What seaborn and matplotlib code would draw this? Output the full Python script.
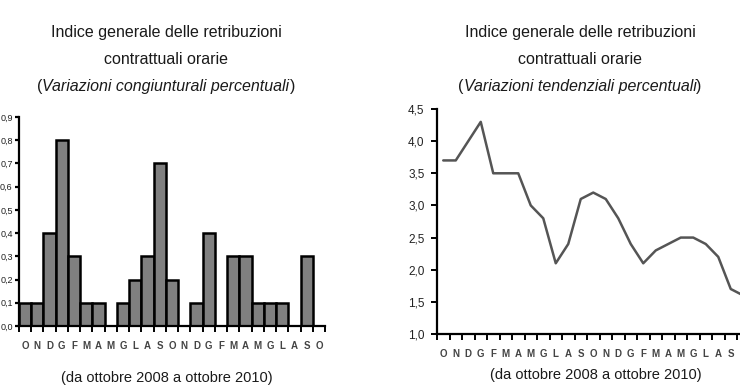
# Indice generale delle retribuzioni contrattuali orarie - due pannelli

import numpy as np
import pandas as pd
import matplotlib
matplotlib.use("Agg")
import matplotlib.pyplot as plt
import seaborn as sns

# Mesi da ottobre 2008 a ottobre 2010
mesi = ["O", "N", "D", "G", "F", "M", "A", "M", "G", "L", "A", "S",
        "O", "N", "D", "G", "F", "M", "A", "M", "G", "L", "A", "S", "O"]

# Variazioni congiunturali percentuali
congiunturali = [0.1, 0.1, 0.4, 0.8, 0.3, 0.1, 0.1, 0.0, 0.1, 0.2, 0.3, 0.7,
                 0.2, 0.0, 0.1, 0.4, 0.0, 0.3, 0.3, 0.1, 0.1, 0.1, 0.0, 0.3, 0.0]

# Variazioni tendenziali percentuali
tendenziali = [3.7, 3.7, 4.0, 4.3, 3.5, 3.5, 3.5, 3.0, 2.8, 2.1, 2.4, 3.1,
               3.2, 3.1, 2.8, 2.4, 2.1, 2.3, 2.4, 2.5, 2.5, 2.4, 2.2, 1.7, 1.6]

y_left_ticks = [0.0, 0.1, 0.2, 0.3, 0.4, 0.5, 0.6, 0.7, 0.8, 0.9]
y_right_ticks = [1.0, 1.5, 2.0, 2.5, 3.0, 3.5, 4.0, 4.5]

titolo = "Indice generale delle retribuzioni\ncontrattuali orarie"
sottotitolo_sx = "Variazioni congiunturali percentuali"
sottotitolo_dx = "Variazioni tendenziali percentuali"
piede = "(da ottobre 2008 a ottobre 2010)"

df = pd.DataFrame({"idx": np.arange(len(mesi)), "cong": congiunturali, "tend": tendenziali})

sns.set_style("ticks")
plt.rcParams["font.family"] = ["Liberation Sans", "DejaVu Sans"]
TXT = "#1a1a1a"

W, H = 740, 389
fig = plt.figure(figsize=(W / 100, H / 100), dpi=100)

# axes positions in pixels
ax1 = fig.add_axes([19 / W, (H - 326) / H, 306 / W, 209 / H])
ax2 = fig.add_axes([437 / W, (H - 334) / H, 312.5 / W, 225 / H])

# --- left: bars
sns.barplot(data=df, x="idx", y="cong", ax=ax1, width=1.0, color="#808080",
            saturation=1, edgecolor="black", linewidth=1.8)
ax1.set_xlim(-0.5, len(mesi) - 0.5)
ax1.set_ylim(0, 0.9)
ax1.set_yticks(y_left_ticks)
ax1.set_yticklabels([f"{v:.1f}".replace(".", ",") for v in y_left_ticks])

# --- right: line
sns.lineplot(data=df, x="idx", y="tend", ax=ax2, color="#555555", linewidth=1.8)
ax2.set_xlim(-0.5, len(mesi) - 0.5)
ax2.set_ylim(1.0, 4.5)
ax2.set_yticks(y_right_ticks)
ax2.set_yticklabels([f"{v:.1f}".replace(".", ",") for v in y_right_ticks])

for ax in (ax1, ax2):
    ax.set_xlabel("")
    ax.set_ylabel("")
    sns.despine(ax=ax)
    for s in ("left", "bottom"):
        ax.spines[s].set_linewidth(1.6)
        ax.spines[s].set_color("black")
    ax.set_xticks(np.arange(len(mesi)))
    ax.set_xticks(np.arange(len(mesi) + 1) - 0.5, minor=True)
    ax.tick_params(axis="x", which="major", length=0, pad=10.5)
    ax.tick_params(axis="x", which="minor", direction="out", length=4, width=1.4, color="black")
    ax.patch.set_alpha(0)

ax1.set_xticklabels(mesi, fontsize=7, fontweight="bold", color="#444444")
# last month falls beyond the right edge of the picture
ax2.set_xticklabels(mesi[:-1] + [""], fontsize=7, fontweight="bold", color="#444444")

ax1.tick_params(axis="y", direction="out", length=3, width=1.6, color="black",
                labelsize=6.5, labelcolor="#222222", pad=1.5)
ax2.tick_params(axis="y", direction="out", length=4.5, width=1.4, color="black",
                labelsize=8.5, labelcolor="#222222", pad=4.5)

# --- titles
for cx, sub in ((166, sottotitolo_sx), (580, sottotitolo_dx)):
    fig.text(cx / W, 1 - 46 / H, titolo, ha="center", va="center", fontsize=11.5,
             color=TXT, linespacing=2.0)
    t = fig.text(cx / W, 1 - 94 / H, sub, ha="center", va="bottom", fontsize=11.5,
                 style="italic", color=TXT)
    plt.annotate("(", xy=(0, 0), xycoords=t, ha="right", va="bottom", fontsize=11.5,
                 color=TXT, annotation_clip=False)
    plt.annotate(")", xy=(1, 0), xycoords=t, ha="left", va="bottom", fontsize=11.5,
                 color=TXT, annotation_clip=False)

fig.text(167 / W, 1 - 378 / H, piede, ha="center", va="center", fontsize=10.5, color=TXT)
fig.text(596 / W, 1 - 375 / H, piede, ha="center", va="center", fontsize=10.5, color=TXT)

fig.savefig("out.png", dpi=100, facecolor="white")
